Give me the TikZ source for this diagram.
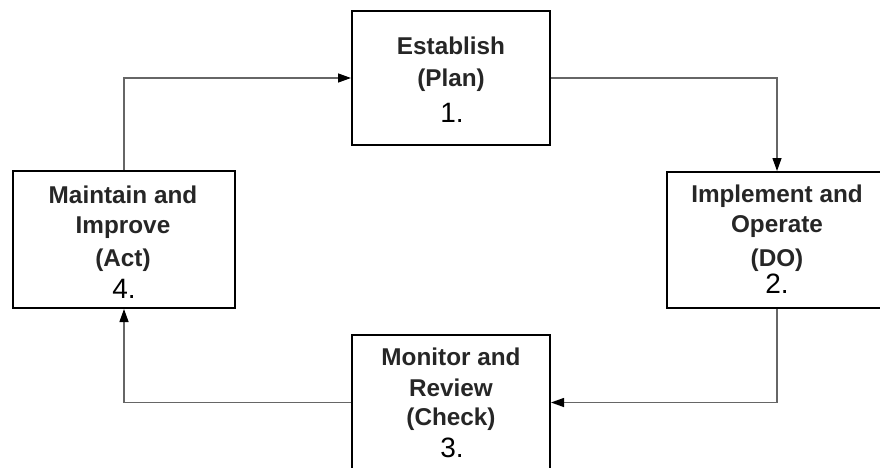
\documentclass[tikz,border=0pt]{standalone}
\usepackage{fontspec}
\setmainfont{Liberation Sans}
\usetikzlibrary{arrows.meta}
\begin{document}
\begin{tikzpicture}[x=1pt,y=-1pt,
  boxnode/.style={draw=black,line width=2pt,rectangle,inner sep=0pt},
  lbl/.style={anchor=base,inner sep=0pt,text=black!85,font=\bfseries\fontsize{24.3}{30}\selectfont},
  num/.style={anchor=base,inner sep=0pt,text=black,font=\fontsize{28}{32}\selectfont},
  link/.style={draw=black!60,line width=1.3pt,-{Triangle[length=13pt,width=9pt,color=black]}}]
\useasboundingbox (0,0) rectangle (880,468);
% boxes
\node[boxnode,minimum width=198pt,minimum height=134pt] (b1) at (451,78) {};
\node[boxnode,minimum width=220pt,minimum height=136pt] (b2) at (777,240) {};
\node[boxnode,minimum width=198pt,minimum height=135pt] (b3) at (451,402.5) {};
\node[boxnode,minimum width=222pt,minimum height=137pt] (b4) at (124,239.5) {};
% texts box 1
\node[lbl] (t1a) at (451,55) {Establish};
\node[lbl] (t1b) at (451,87) {(Plan)};
\node[num] (t1c) at (452,122) {1.};
% texts box 2
\node[lbl] (t2a) at (777,202) {Implement and};
\node[lbl] (t2b) at (777,232) {Operate};
\node[lbl] (t2c) at (777,266) {(DO)};
\node[num] (t2d) at (777,293) {2.};
% texts box 3
\node[lbl] (t3a) at (451,365) {Monitor and};
\node[lbl] (t3b) at (451,396) {Review};
\node[lbl] (t3c) at (451,425) {(Check)};
\node[num] (t3d) at (452,457) {3.};
% texts box 4
\node[lbl] (t4a) at (123,203) {Maintain and};
\node[lbl] (t4b) at (123,233) {Improve};
\node[lbl] (t4c) at (123,266) {(Act)};
\node[num] (t4d) at (124,298) {4.};
% connectors
\draw[link] (b4.north) |- (b1.west);
\draw[link] (b1.east) -| (b2.north);
\draw[link] (b2.south) |- (b3.east);
\draw[link] (b3.west) -| (b4.south);
\end{tikzpicture}
\end{document}
